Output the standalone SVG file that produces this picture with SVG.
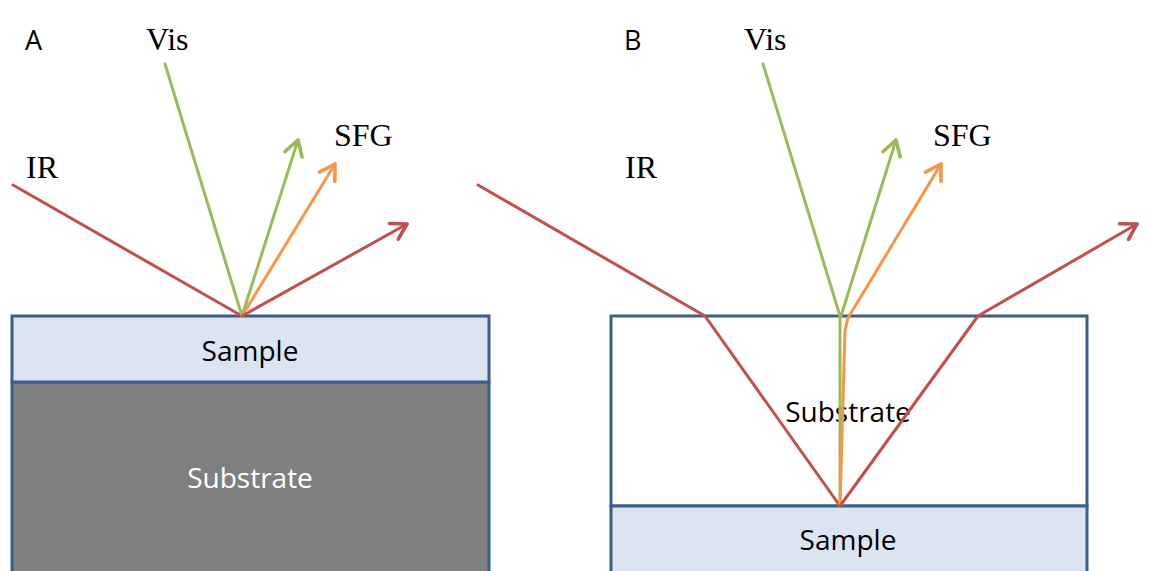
<svg xmlns="http://www.w3.org/2000/svg" width="1149" height="571" viewBox="0 0 1149 571">
<defs>
<style>
.box{stroke:#3b5f8c;stroke-width:3}
.sample{fill:#dbe5f1}
.sub{fill:#7f7f7f}
.white{fill:#ffffff}
.lbl{font-family:"Open Sans","Liberation Sans",Arial,sans-serif;font-size:28px;text-anchor:middle}
.ser{font-family:"Liberation Serif","Times New Roman",serif;font-size:32px;fill:#000}
.pan{font-family:"Open Sans","Liberation Sans",Arial,sans-serif;font-size:27px;fill:#000}
.ray{fill:none;stroke-width:3;stroke-linejoin:round;stroke-linecap:round}
.red{stroke:#c0504d}
.green{stroke:#9bbb59}
.orange{stroke:#f79646}
</style>
<marker id="ar" markerWidth="8" markerHeight="8" refX="6" refY="4" orient="auto" markerUnits="strokeWidth"><path d="M1,1 L6,4 L1,7" fill="none" stroke="#c0504d" stroke-width="1.2" stroke-linecap="round" stroke-linejoin="round"/></marker>
<marker id="ag" markerWidth="8" markerHeight="8" refX="6" refY="4" orient="auto" markerUnits="strokeWidth"><path d="M1,1 L6,4 L1,7" fill="none" stroke="#9bbb59" stroke-width="1.2" stroke-linecap="round" stroke-linejoin="round"/></marker>
<marker id="ao" markerWidth="8" markerHeight="8" refX="6" refY="4" orient="auto" markerUnits="strokeWidth"><path d="M1,1 L6,4 L1,7" fill="none" stroke="#f79646" stroke-width="1.2" stroke-linecap="round" stroke-linejoin="round"/></marker>
</defs>
<rect width="1149" height="571" fill="#ffffff"/>

<g id="panelA-substrate">
<rect class="box sub" x="12" y="382" width="477" height="200"/>
<text class="lbl" x="250" y="488" fill="#ffffff">Substrate</text>
</g>
<g id="panelA-sample">
<rect class="box sample" x="12" y="316" width="477" height="66"/>
<text class="lbl" x="250" y="361" fill="#000000">Sample</text>
</g>

<g id="panelB-substrate">
<rect class="box white" x="611" y="316" width="476" height="190"/>
<text class="lbl" x="848" y="422" fill="#000000">Substrate</text>
</g>
<g id="panelB-sample">
<rect class="box sample" x="611" y="506" width="476" height="80"/>
<text class="lbl" x="848" y="550" fill="#000000">Sample</text>
</g>

<g id="labels">
<text class="pan" x="25" y="50">A</text>
<text class="ser" x="146" y="50">Vis</text>
<text class="ser" x="26" y="178">IR</text>
<text class="ser" x="334" y="146">SFG</text>
<text class="pan" x="624" y="50">B</text>
<text class="ser" x="744" y="50">Vis</text>
<text class="ser" x="625" y="178">IR</text>
<text class="ser" x="933" y="146">SFG</text>
</g>

<g id="connectors">
<polyline class="ray red" points="13,185 242,316"/>
<polyline class="ray green" points="165,64 242,316"/>
<line class="ray green" x1="242" y1="316" x2="298" y2="140" marker-end="url(#ag)"/>
<line class="ray orange" x1="242" y1="316" x2="335" y2="164" marker-end="url(#ao)"/>
<line class="ray red" x1="242" y1="316" x2="407" y2="224" marker-end="url(#ar)"/>

<polyline class="ray red" points="478,185 705,316 840,506"/>
<polyline class="ray green" points="763,64 840,316 840,506"/>
<polyline class="ray orange" points="840,506 845,330 848,318"/>
<line class="ray green" x1="841" y1="316" x2="896" y2="140" marker-end="url(#ag)"/>
<line class="ray orange" x1="848" y1="318" x2="941" y2="164" marker-end="url(#ao)"/>
<polyline class="ray red" points="840,506 978,316 1137,224" marker-end="url(#ar)"/>
</g>
</svg>
